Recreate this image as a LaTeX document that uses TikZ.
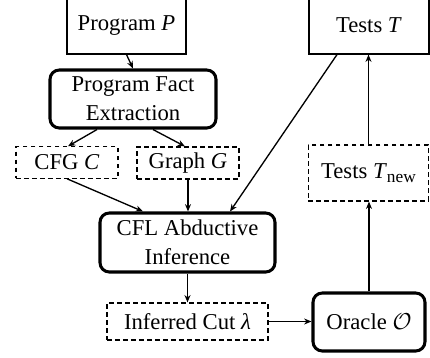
\documentclass[tikz,border=0pt]{standalone}
\usepackage{fontspec}
\setmainfont{Liberation Serif}
\usetikzlibrary{arrows.meta}
\tikzset{
  base/.style={rectangle, align=center, inner sep=0pt, font=\fontsize{17}{21.5}\selectfont},
  plainbox/.style={base, draw, line width=0.9pt},
  dashbox/.style={base, draw, line width=0.9pt, dash pattern=on 3.5pt off 2.5pt},
  thickbox/.style={base, draw, line width=2.3pt, rounded corners=7pt},
  conn/.style={line width=1pt, -{Stealth[length=5.5pt,width=4.5pt]}},
}
\newcommand{\subnew}{\raisebox{-0.35ex}{\fontsize{13}{13}\selectfont new}}
\begin{document}
\begin{tikzpicture}[x=0.75pt,y=-0.75pt]
\fill[white] (0,0) rectangle (430,358);
\useasboundingbox (0,0) rectangle (430,358);
\node[plainbox, minimum width=89.25pt, minimum height=42.75pt] (P) at (126.5,25.5) {Program \textit{P}};
\node[plainbox, minimum width=90pt, minimum height=42.75pt] (T) at (369,25.5) {Tests \textit{T}};
\node[thickbox, minimum width=124.5pt, minimum height=43.5pt] (PFE) at (133,99) {Program Fact\\Extraction};
\node[dashbox, minimum width=76.5pt, minimum height=23.5pt] (CFG) at (67,162.5) {CFG \textit{C}};
\node[dashbox, minimum width=76.5pt, minimum height=24pt] (G) at (188,163) {Graph \textit{G}};
\node[dashbox, minimum width=90pt, minimum height=42pt] (Tn) at (368.5,173) {Tests \textit{T}\subnew};
\node[thickbox, minimum width=131.25pt, minimum height=44.25pt] (CFL) at (187.5,242.5) {CFL Abductive\\Inference};
\node[dashbox, minimum width=120.75pt, minimum height=27.75pt] (IC) at (187.5,321.5) {Inferred Cut \textit{λ}};
\node[thickbox, minimum width=84pt, minimum height=43.5pt] (O) at (369,322) {Oracle $\mathcal{O}$};
\draw[conn] (P.south) -- (PFE.north);
\draw[conn] ([xshift=-27pt]PFE.south) -- ([xshift=0.75pt]CFG.north);
\draw[conn] ([xshift=15pt]PFE.south) -- ([xshift=-2.25pt]G.north);
\draw[conn] (CFG.south) -- ([xshift=-33.4pt]CFL.north);
\draw[conn] (G.south) -- (G.south |- CFL.north);
\draw[conn] ([xshift=-24pt]T.south) -- ([xshift=31.9pt]CFL.north);
\draw[conn] (CFL.south) -- (IC.north);
\draw[conn] (IC.east) -- (IC.east -| O.west);
\draw[conn] (O.north) -- (Tn.south -| O.north);
\draw[conn] (Tn.north) -- (T.south -| Tn.north);
\end{tikzpicture}
\end{document}
